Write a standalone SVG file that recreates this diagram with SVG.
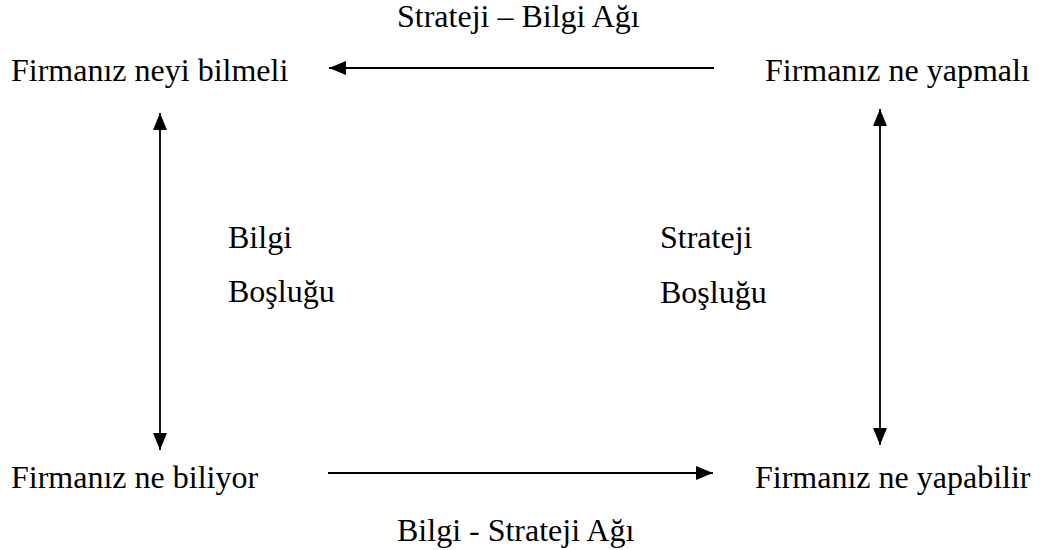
<svg xmlns="http://www.w3.org/2000/svg" width="1042" height="550" viewBox="0 0 1042 550">
  <style>
    .t { font-family: 'Liberation Serif', 'Times New Roman', 'DejaVu Serif', serif; font-size: 32px; fill: #000; }
    .conn { stroke: #000; stroke-width: 1.8; fill: none; }
  </style>
  <defs>
    <marker id="head" viewBox="0 0 17 14" refX="17" refY="7" markerWidth="17" markerHeight="14" markerUnits="userSpaceOnUse" orient="auto-start-reverse">
      <path d="M0,0 L17,7 L0,14 Z" fill="#000"/>
    </marker>
  </defs>
  <rect width="1042" height="550" fill="#fff"/>

  <g id="connectors">
    <!-- strategy to knowledge (top) -->
    <line class="conn" x1="714" y1="68" x2="329" y2="68" marker-end="url(#head)"/>
    <!-- knowledge to strategy (bottom) -->
    <line class="conn" x1="328" y1="473" x2="713" y2="473" marker-end="url(#head)"/>
    <!-- knowledge gap -->
    <line class="conn" x1="160" y1="113" x2="160" y2="450" marker-start="url(#head)" marker-end="url(#head)"/>
    <!-- strategy gap -->
    <line class="conn" x1="880" y1="109" x2="880" y2="445" marker-start="url(#head)" marker-end="url(#head)"/>
  </g>

  <g id="node-bilmeli"><text class="t" x="11" y="81">Firmanız neyi bilmeli</text></g>
  <g id="node-yapmali"><text class="t" x="765" y="81">Firmanız ne yapmalı</text></g>
  <g id="node-biliyor"><text class="t" x="11" y="488">Firmanız ne biliyor</text></g>
  <g id="node-yapabilir"><text class="t" x="755" y="488">Firmanız ne yapabilir</text></g>

  <g id="labels">
    <text class="t" x="397" y="27">Strateji – Bilgi Ağı</text>
    <text class="t" x="397" y="541">Bilgi - Strateji Ağı</text>
    <text class="t" x="228" y="248">Bilgi</text>
    <text class="t" x="228" y="302">Boşluğu</text>
    <text class="t" x="660" y="248">Strateji</text>
    <text class="t" x="660" y="303">Boşluğu</text>
  </g>
</svg>
